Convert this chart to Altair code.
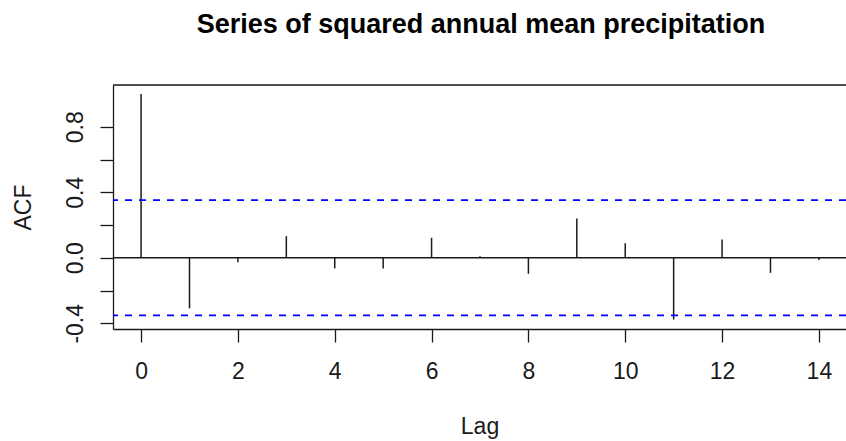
import altair as alt
import pandas as pd

# Sample autocorrelation of the squared annual mean precipitation series (n = 31)
lags = list(range(15))
acf_values = [1.0, -0.309, -0.028, 0.132, -0.065, -0.065, 0.122, 0.010,
              -0.098, 0.240, 0.088, -0.377, 0.112, -0.092, -0.014]
conf_limit = 0.352  # 1.96 / sqrt(31)

x_ticks = [0, 2, 4, 6, 8, 10, 12, 14]
y_ticks = [-0.4, -0.2, 0.0, 0.2, 0.4, 0.6, 0.8]

acf_df = pd.DataFrame({"lag": lags, "acf": acf_values})
limits_df = pd.DataFrame({"limit": [conf_limit, -conf_limit]})
frame_df = pd.DataFrame({"edge": ["top"]})

FONT = "Liberation Sans"
INK = "#1a1a1a"
x_scale = alt.Scale(domain=[-0.58, 14.56], nice=False, zero=False)
y_scale = alt.Scale(domain=[-0.435, 1.055], nice=False, zero=False)

x_axis = alt.Axis(
    values=x_ticks, title="Lag", grid=False,
    tickSize=13, tickWidth=1.3, tickColor=INK,
    domainColor=INK, domainWidth=1.3,
    labelFont=FONT, labelFontSize=23, labelColor=INK,
    labelBaseline="alphabetic", labelPadding=36, labelFlush=False,
    titleFont=FONT, titleFontSize=23, titleFontWeight="normal", titleColor=INK,
    titleBaseline="alphabetic", titleY=104,
)
y_axis = alt.Axis(
    values=y_ticks, title="ACF", grid=False,
    tickSize=13, tickWidth=1.3, tickColor=INK,
    domainColor=INK, domainWidth=1.3,
    labelExpr="abs(round(datum.value * 10)) % 4 == 0 ? "
              "(datum.value < 0 ? '-' : '') + format(abs(datum.value), '.1f') : ''",
    labelFont=FONT, labelFontSize=23, labelColor=INK,
    labelAngle=270, labelAlign="center", labelBaseline="alphabetic",
    labelPadding=18, labelFlush=False,
    titleFont=FONT, titleFontSize=23, titleFontWeight="normal", titleColor=INK,
    titleAngle=270, titleAlign="center", titleBaseline="alphabetic", titleX=-83,
)

# One spike per lag (carries both axes)
spikes = alt.Chart(acf_df).mark_rule(color=INK, strokeWidth=1.5).encode(
    x=alt.X("lag:Q", scale=x_scale, axis=x_axis),
    y=alt.Y("acf:Q", scale=y_scale, axis=y_axis),
    y2=alt.Y2(datum=0),
)

# Horizontal line at zero
zero_line = alt.Chart(frame_df).mark_rule(color=INK, strokeWidth=1.3).encode(
    y=alt.Y(datum=0, scale=y_scale, axis=y_axis)
)

# Approximate 95% confidence bounds
bounds = alt.Chart(limits_df).mark_rule(
    color="#0000ff", strokeWidth=1.7, strokeDash=[7, 7]
).encode(
    y=alt.Y("limit:Q", scale=y_scale, axis=y_axis)
)

# Upper edge of the plot box
top_edge = alt.Chart(frame_df).mark_rule(color=INK, strokeWidth=1.3).encode(
    y=alt.value(0)
)

chart = alt.layer(spikes, zero_line, bounds, top_edge).properties(
    width=733,
    height=244,
    title=alt.TitleParams(
        "Series of squared annual mean precipitation",
        font=FONT, fontSize=27, fontWeight="bold", color="#000000",
        anchor="middle", baseline="alphabetic", offset=24, dx=1.5,
    ),
    autosize=alt.AutoSizeParams(type="none"),
    padding={"left": 113, "top": 85, "right": 0, "bottom": 112},
).configure_view(stroke=None).configure(background="white")

chart.save("out.html", embed_options={"renderer": "svg", "actions": False})
